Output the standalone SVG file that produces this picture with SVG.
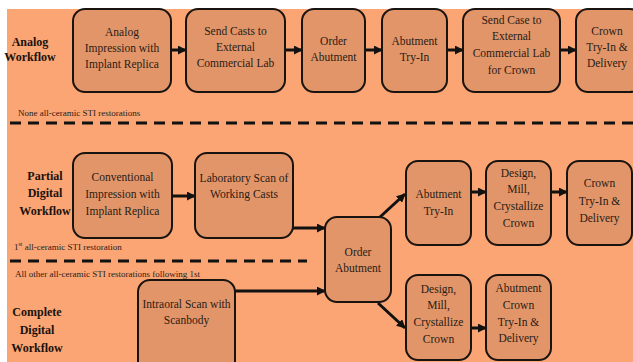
<svg xmlns="http://www.w3.org/2000/svg" width="633" height="362" viewBox="0 0 633 362">
<style>
.bg{fill:#FBA574}
.box{fill:#E29569;stroke:#1a1410;stroke-width:2}
.t{font-family:"Liberation Serif","DejaVu Serif","Times New Roman",serif;font-size:11.5px;fill:#2a1c14;text-anchor:middle}
.lab{font-family:"Liberation Serif","DejaVu Serif","Times New Roman",serif;font-size:12px;font-weight:bold;fill:#1a120c;text-anchor:middle}
.small{font-family:"Liberation Serif","DejaVu Serif","Times New Roman",serif;font-size:9px;fill:#2a1c14}
.arr{stroke:#111;stroke-width:3;fill:none;marker-end:url(#ah)}
.dash{stroke:#111;stroke-width:3;stroke-dasharray:11 7;fill:none}
</style>
<defs>
<marker id="ah" viewBox="0 0 10 10" refX="9" refY="5" markerWidth="9" markerHeight="9" markerUnits="userSpaceOnUse" orient="auto">
<path d="M0,0 L10,5 L0,10 z" fill="#111"/>
</marker>
</defs>
<rect x="0" y="0" width="633" height="362" fill="#ffffff"/>
<rect class="bg" x="7" y="9" width="626" height="353"/>

<g id="labels">
<text class="lab" x="30" y="46">Analog</text>
<text class="lab" x="30" y="61">Workflow</text>
<text class="lab" x="45" y="180">Partial</text>
<text class="lab" x="45" y="197">Digital</text>
<text class="lab" x="45" y="215">Workflow</text>
<text class="lab" x="37" y="316">Complete</text>
<text class="lab" x="37" y="334">Digital</text>
<text class="lab" x="37" y="352">Workflow</text>
<text class="small" x="18" y="116">None all-ceramic STI restorations</text>
<text class="small" x="14" y="250">1<tspan font-size="6" dy="-4">st</tspan><tspan dy="4"> all-ceramic STI restoration</tspan></text>
<text class="small" x="15" y="277">All other all-ceramic STI restorations following 1st</text>
</g>

<g id="dividers">
<line class="dash" x1="10" y1="123" x2="633" y2="123"/>
<line class="dash" x1="10" y1="261" x2="307" y2="261"/>
</g>

<g id="connectors">
<path class="arr" d="M171,50 H186"/>
<path class="arr" d="M285,50 H302"/>
<path class="arr" d="M365,50 H382"/>
<path class="arr" d="M447,50 H463"/>
<path class="arr" d="M560,50 H576"/>
<path class="arr" d="M172,196 H195"/>
<path class="arr" d="M293,228 H325"/>
<path class="arr" d="M235,291 H325"/>
<path class="arr" d="M380,217 L405,194"/>
<path class="arr" d="M378,303 L405,328"/>
<path class="arr" d="M471,192 H486"/>
<path class="arr" d="M551,192 H567"/>
<path class="arr" d="M471,328 H486"/>
</g>

<g id="n-analog-impression">
<rect class="box" x="73" y="9" width="98" height="83" rx="12"/>
<text class="t" x="122" y="36">Analog</text>
<text class="t" x="122" y="52">Impression with</text>
<text class="t" x="122" y="68">Implant Replica</text>
</g>
<g id="n-send-casts">
<rect class="box" x="186" y="9" width="99" height="83" rx="12"/>
<text class="t" x="235.5" y="35">Send Casts to</text>
<text class="t" x="235.5" y="51">External</text>
<text class="t" x="235.5" y="67">Commercial Lab</text>
</g>
<g id="n-order-abutment-1">
<rect class="box" x="302" y="9" width="63" height="83" rx="12"/>
<text class="t" x="333.5" y="45">Order</text>
<text class="t" x="333.5" y="61">Abutment</text>
</g>
<g id="n-abutment-tryin-1">
<rect class="box" x="382" y="9" width="65" height="83" rx="12"/>
<text class="t" x="414.5" y="45">Abutment</text>
<text class="t" x="414.5" y="61">Try-In</text>
</g>
<g id="n-send-case">
<rect class="box" x="463" y="9" width="97" height="83" rx="12"/>
<text class="t" x="511.5" y="24">Send Case to</text>
<text class="t" x="511.5" y="40">External</text>
<text class="t" x="511.5" y="57">Commercial Lab</text>
<text class="t" x="511.5" y="74">for Crown</text>
</g>
<g id="n-crown-tryin-1">
<rect class="box" x="576" y="9" width="66" height="83" rx="12"/>
<text class="t" x="607" y="35">Crown</text>
<text class="t" x="607" y="51">Try-In &amp;</text>
<text class="t" x="607" y="67">Delivery</text>
</g>

<g id="n-conventional">
<rect class="box" x="73" y="153" width="99" height="85" rx="12"/>
<text class="t" x="122.5" y="181">Conventional</text>
<text class="t" x="122.5" y="198">Impression with</text>
<text class="t" x="122.5" y="215">Implant Replica</text>
</g>
<g id="n-lab-scan">
<rect class="box" x="195" y="153" width="98" height="85" rx="12"/>
<text class="t" x="244" y="182">Laboratory Scan of</text>
<text class="t" x="244" y="198">Working Casts</text>
</g>
<g id="n-order-abutment-2">
<rect class="box" x="325" y="217" width="66" height="85" rx="12"/>
<text class="t" x="358" y="256">Order</text>
<text class="t" x="358" y="272">Abutment</text>
</g>
<g id="n-abutment-tryin-2">
<rect class="box" x="406" y="161" width="65" height="84" rx="12"/>
<text class="t" x="438.5" y="198">Abutment</text>
<text class="t" x="438.5" y="215">Try-In</text>
</g>
<g id="n-design-1">
<rect class="box" x="486" y="161" width="65" height="84" rx="12"/>
<text class="t" x="518.5" y="177">Design,</text>
<text class="t" x="518.5" y="193">Mill,</text>
<text class="t" x="518.5" y="210">Crystallize</text>
<text class="t" x="518.5" y="227">Crown</text>
</g>
<g id="n-crown-tryin-2">
<rect class="box" x="567" y="161" width="65" height="84" rx="12"/>
<text class="t" x="599.5" y="187">Crown</text>
<text class="t" x="599.5" y="205">Try-In &amp;</text>
<text class="t" x="599.5" y="222">Delivery</text>
</g>
<g id="n-intraoral">
<rect class="box" x="138" y="280" width="97" height="95" rx="12"/>
<text class="t" x="186.5" y="308">Intraoral Scan with</text>
<text class="t" x="186.5" y="324">Scanbody</text>
</g>
<g id="n-design-2">
<rect class="box" x="406" y="275" width="65" height="85" rx="12"/>
<text class="t" x="438.5" y="293">Design,</text>
<text class="t" x="438.5" y="309">Mill,</text>
<text class="t" x="438.5" y="326">Crystallize</text>
<text class="t" x="438.5" y="343">Crown</text>
</g>
<g id="n-abutment-crown">
<rect class="box" x="486" y="275" width="65" height="85" rx="12"/>
<text class="t" x="518.5" y="292">Abutment</text>
<text class="t" x="518.5" y="309">Crown</text>
<text class="t" x="518.5" y="326">Try-In &amp;</text>
<text class="t" x="518.5" y="342">Delivery</text>
</g>
</svg>
